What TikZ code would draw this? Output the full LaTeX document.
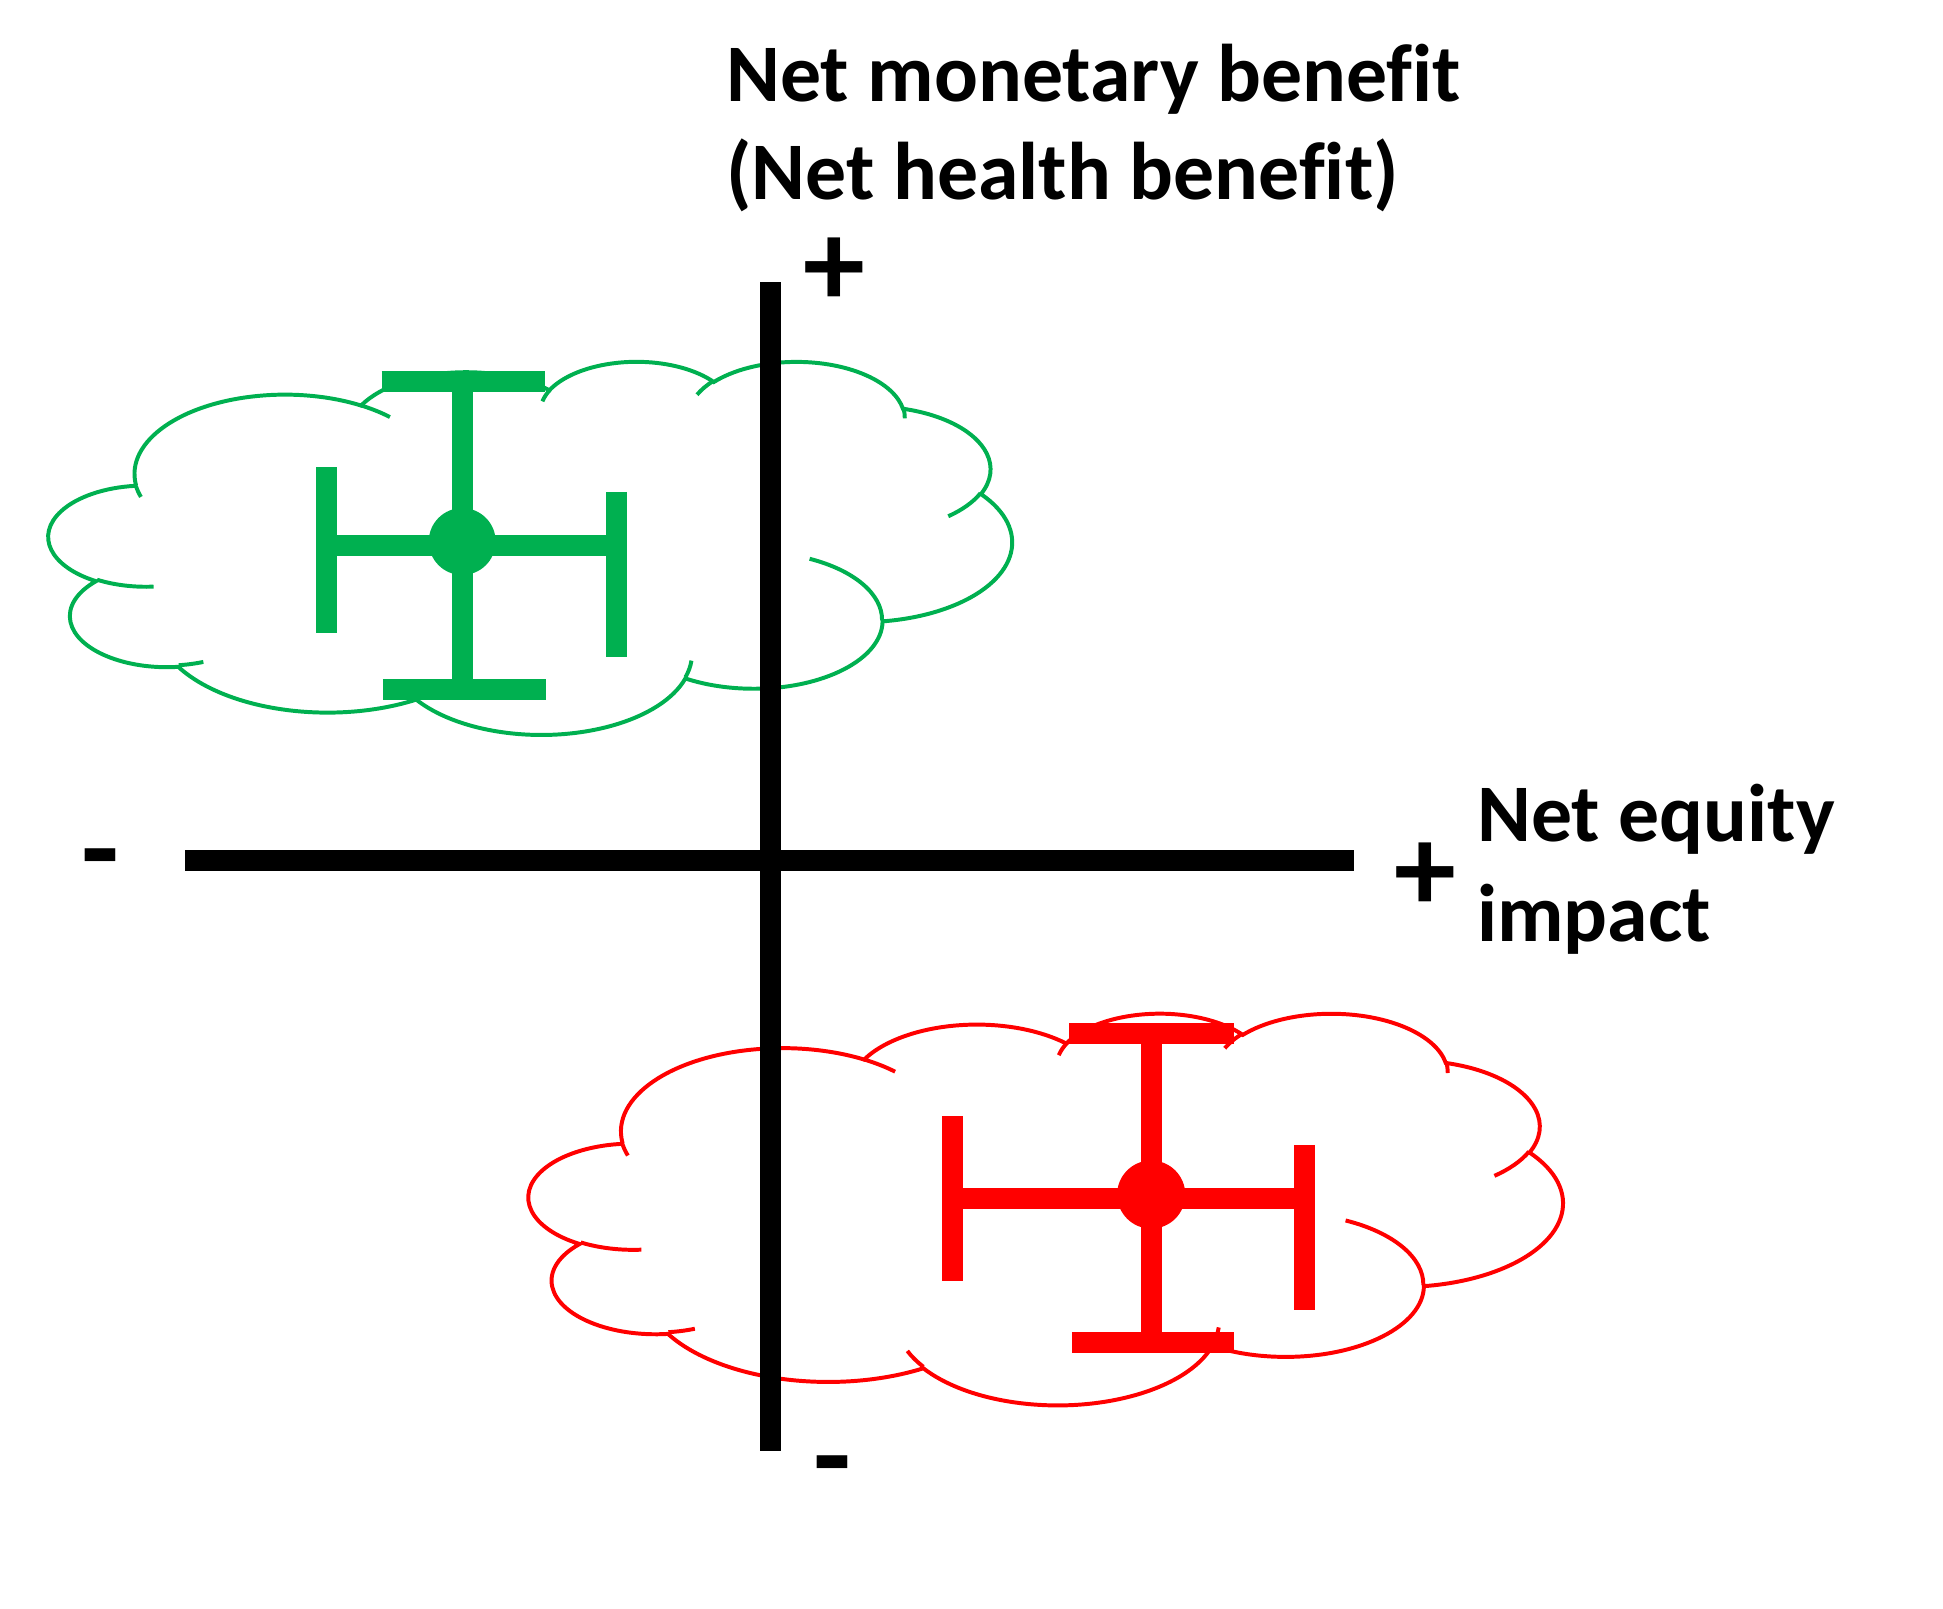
\documentclass[tikz,border=0pt]{standalone}
\usepackage{fontspec}
\setmainfont[Ligatures=CommonOff]{Carlito}
\makeatletter
\pgfmathdeclarefunction{vpar}{3}{%
  \begingroup
    \pgfmathparse{atan2((#2)*sin(#1),(#3)*cos(#1))}%
    \let\vp@t\pgfmathresult
    \pgfmathparse{\vp@t+360*round(((#1)-\vp@t)/360)}%
    \pgfmath@smuggleone\pgfmathresult
  \endgroup}
\makeatother
\definecolor{pptgreen}{HTML}{00B050}
\definecolor{pptred}{HTML}{FF0000}
\newcommand\oarc[4]{arc[x radius=#1, y radius=#2, start angle={vpar(#3,#1,#2)}, end angle={vpar(#3+#4,#1,#2)}]}
\newcommand\pptcloud[5]{%
  \begin{scope}[shift={(#2,#3)}, x=#4pt, y=-#5pt, draw=#1, line width=3.2pt]
    \draw (39,143.7)
      \oarc{67.53}{91.90}{-190.48748}{123.78053}
      \oarc{53.33}{72.67}{-144.10238}{89.94523}
      \oarc{43.65}{59.45}{-145.80792}{99.72302}
      \oarc{48.57}{65.95}{-130.98607}{117.24173}
      \oarc{53.33}{72.73}{-78.70888}{109.02692}
      \oarc{67.75}{92.20}{-46.26725}{130.269}
      \oarc{57.85}{78.67}{0.62502}{114.03333}
      \oarc{67.52}{92.15}{22.4516}{115.17255}
      \oarc{77.20}{105.43}{66.24263}{75.71102}
      \oarc{43.60}{59.18}{-274.94208}{146.73557}
      \oarc{43.45}{59.45}{-246.8285}{152.51885}
      -- cycle;
    \draw (46.93,261.77) \oarc{43.45}{59.45}{86.742}{26.4295}
      (69.28,348.99) \oarc{43.60}{59.18}{73.61047}{11.44747}
      (164.78,390.90) \oarc{67.52}{92.15}{137.62415}{14.0811}
      (288.27,347.51) \oarc{67.52}{92.15}{6.45327}{15.99835}
      (341.29,229.54) \oarc{57.85}{78.67}{-70.29235}{70.91737}
      (417.98,153.54) \oarc{53.33}{72.73}{30.31803}{27.7515}
      (383.24,54.26) \oarc{48.57}{65.95}{-13.74433}{14.8589}
      (290.78,39.52) \oarc{48.57}{65.95}{-149.18145}{18.19537}
      (221.41,47.20) \oarc{43.65}{59.45}{-163.49427}{17.6881}
      (140.00,51.92) \oarc{67.53}{91.90}{-66.70695}{12.31935}
      (41.27,157.89) \oarc{67.53}{91.90}{156.55228}{10.0001};
  \end{scope}}
\begin{document}
\begin{tikzpicture}[x=1pt, y=-1pt, line cap=butt,
  bar/.style={line width=17pt},
  axisline/.style={line width=17pt, black},
  lbl/.style={font=\bfseries\fontsize{66}{79}\selectfont, inner sep=0pt, anchor=base west},
  sgn/.style={font=\bfseries\fontsize{100}{100}\selectfont, inner sep=0pt, anchor=base}]
\useasboundingbox (0,0) rectangle (1568,1298);
% clouds
\pptcloud{pptgreen}{39.5}{291}{1.79861}{0.69676}
\pptcloud{pptred}{427}{817}{1.93056}{0.73148}
% green error bars
\begin{scope}[draw=pptgreen]
  \draw[bar] (373,307.5) -- (373,556.5);
  \draw[bar] (308,307.5) -- (440,307.5);
  \draw[bar] (309,556.5) -- (441,556.5);
  \draw[bar] (263.5,440) -- (497.5,440);
  \draw[bar] (263.5,377) -- (263.5,511);
  \draw[bar] (497.5,397) -- (497.5,530);
\end{scope}
\node[circle, fill=pptgreen, minimum size=54pt, inner sep=0pt] (gdot) at (373,437) {};
% red error bars
\begin{scope}[draw=pptred]
  \draw[bar] (929.5,834) -- (929.5,1083.5);
  \draw[bar] (863,834) -- (996,834);
  \draw[bar] (865,1083.5) -- (996,1083.5);
  \draw[bar] (768.5,967.5) -- (1053,967.5);
  \draw[bar] (768.5,901) -- (768.5,1034);
  \draw[bar] (1053,924) -- (1053,1057);
\end{scope}
\node[circle, fill=pptred, minimum size=55pt, inner sep=0pt] (rdot) at (929,964) {};
% axes
\coordinate (ytop) at (621.8,227.8);
\coordinate (ybot) at (621.8,1171);
\coordinate (xl) at (149.6,694.6);
\coordinate (xr) at (1093,694.6);
\draw[axisline] (ytop) -- (ybot);
\draw[axisline] (xl) -- (xr);
% labels
\node[lbl] (t1) at (586,82) {Net monetary benefit};
\node[lbl] (t2) at (586,161) {(Net health benefit)};
\node[lbl] (e1) at (1192,679) {Net equity};
\node[lbl] (e2) at (1192,760) {impact};
\node[sgn] (ptop) at (673.5,247.4) {+};
\node[sgn] (pright) at (1150,735.7) {+};
\node[sgn] (mleft) at (81,719) {-};
\node[sgn] (mbot) at (672,1208.6) {-};
\end{tikzpicture}
\end{document}
